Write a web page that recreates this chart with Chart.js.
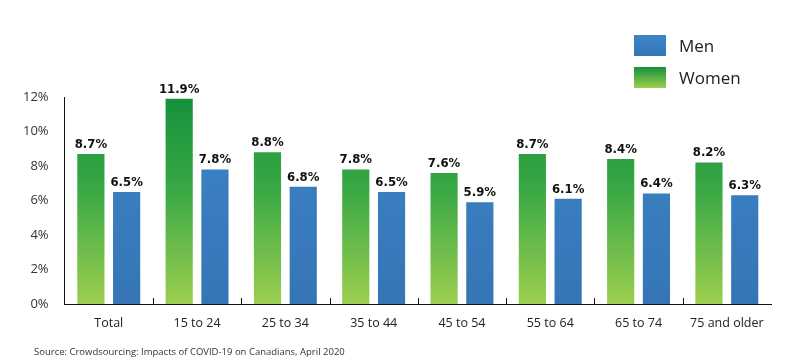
<!DOCTYPE html>
<html>
<head>
<meta charset="utf-8">
<script src="https://cdn.jsdelivr.net/npm/chart.js@4.4.0/dist/chart.umd.min.js"></script>
<style>
  body { margin: 0; background: #fff; }
  #wrap { position: relative; width: 787px; height: 360px; }
  #legend { position: absolute; left: 634px; top: 29px; font-family: 'Open Sans', sans-serif; font-size: 17px; color: #222; }
  #legend div { display: flex; align-items: center; height: 32px; }
  #legend span.box { width: 32px; height: 21px; margin-right: 13px; display: inline-block; }
  #source { position: absolute; left: 34px; top: 345px; font-family: 'Open Sans', sans-serif; font-size: 9.5px; color: #333; }
</style>
</head>
<body>
<div id="wrap">
  <canvas id="chart" width="787" height="360"></canvas>
  <div id="legend"></div>
  <div id="source">Source: Crowdsourcing: Impacts of COVID-19 on Canadians, April 2020</div>
</div>
<script>
const categories = ['Total', '15 to 24', '25 to 34', '35 to 44', '45 to 54', '55 to 64', '65 to 74', '75 and older'];
const women = [8.7, 11.9, 8.8, 7.8, 7.6, 8.7, 8.4, 8.2];
const men = [6.5, 7.8, 6.8, 6.5, 5.9, 6.1, 6.4, 6.3];
const yTicks = [0, 2, 4, 6, 8, 10, 12];

// gradient fills tied to the chart area
function greenFill(ctx) {
    const area = ctx.chart.chartArea;
    if (!area) return '#2a9d46';
    const g = ctx.chart.ctx.createLinearGradient(0, area.top, 0, area.bottom);
    g.addColorStop(0, '#14913c');
    g.addColorStop(0.45, '#3aa845');
    g.addColorStop(1, '#9ccf4f');
    return g;
}
function blueFill(ctx) {
    const area = ctx.chart.chartArea;
    if (!area) return '#3b80c3';
    const g = ctx.chart.ctx.createLinearGradient(0, area.top, 0, area.bottom);
    g.addColorStop(0, '#3d85c8');
    g.addColorStop(1, '#3575b5');
    return g;
}

// value labels above bars
const valueLabels = {
    id: 'valueLabels',
    afterDatasetsDraw(chart) {
        const c = chart.ctx;
        c.save();
        c.font = 'bold 13px "DejaVu Sans Condensed", "Liberation Sans Narrow", sans-serif';
        c.fillStyle = '#111';
        c.textAlign = 'center';
        c.textBaseline = 'bottom';
        chart.data.datasets.forEach((ds, i) => {
            chart.getDatasetMeta(i).data.forEach((bar, j) => {
                c.fillText(ds.data[j].toFixed(1) + '%', bar.x, bar.y - 3);
            });
        });
        c.restore();
    }
};

// short ticks between categories, pointing up from the axis
const betweenTicks = {
    id: 'betweenTicks',
    afterDraw(chart) {
        const x = chart.scales.x;
        const c = chart.ctx;
        const bottom = chart.chartArea.bottom;
        c.save();
        c.strokeStyle = '#111';
        c.lineWidth = 1;
        for (let i = 1; i < categories.length; i++) {
            const px = Math.round((x.getPixelForTick(i - 1) + x.getPixelForTick(i)) / 2) + 0.5;
            c.beginPath();
            c.moveTo(px, bottom);
            c.lineTo(px, bottom - 6);
            c.stroke();
        }
        c.restore();
    }
};

const chart = new Chart(document.getElementById('chart'), {
    type: 'bar',
    data: {
        labels: categories,
        datasets: [
            { label: 'Women', data: women, backgroundColor: greenFill, categoryPercentage: 0.81, barPercentage: 0.76 },
            { label: 'Men', data: men, backgroundColor: blueFill, categoryPercentage: 0.81, barPercentage: 0.76 }
        ]
    },
    options: {
        responsive: false,
        animation: false,
        layout: { padding: { top: 97, right: 16, bottom: 25, left: 15 } },
        plugins: {
            legend: { display: false },
            tooltip: { enabled: false }
        },
        scales: {
            x: {
                grid: { display: false },
                border: { color: '#111', width: 1 },
                ticks: { color: '#222', font: { family: 'Open Sans', size: 12.5 }, padding: 4 }
            },
            y: {
                min: 0,
                max: 12,
                afterBuildTicks(axis) { axis.ticks = yTicks.map(v => ({ value: v })); },
                grid: { display: false },
                border: { color: '#111', width: 1 },
                ticks: { color: '#333', font: { family: 'Open Sans', size: 13 }, padding: 8, callback: v => v + '%' }
            }
        }
    },
    plugins: [valueLabels, betweenTicks]
});

// legend: Men first, then Women
const legend = document.getElementById('legend');
[['Men', 'linear-gradient(#3d85c8, #3575b5)'], ['Women', 'linear-gradient(#14913c, #9ccf4f)']].forEach(([name, bg]) => {
    const row = document.createElement('div');
    row.innerHTML = '<span class="box" style="background:' + bg + '"></span>' + name;
    legend.appendChild(row);
});
</script>
</body>
</html>
